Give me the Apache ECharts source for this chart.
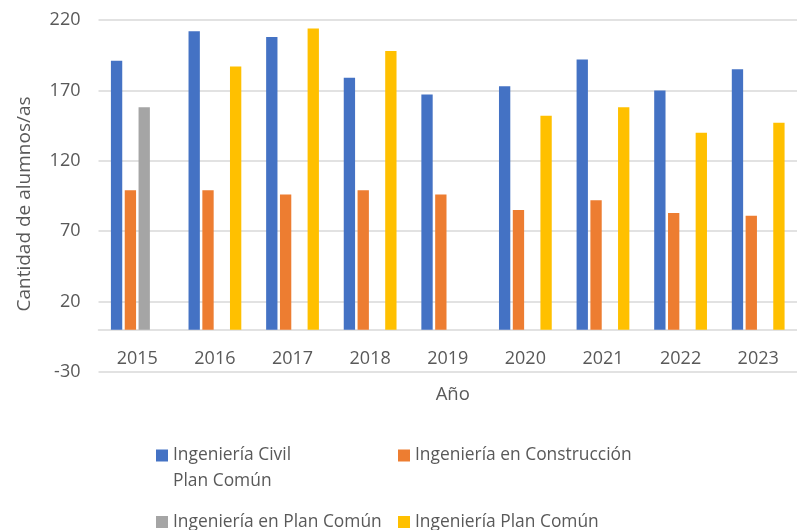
<!DOCTYPE html>
<html>
<head>
<meta charset="utf-8">
<script src="https://cdn.jsdelivr.net/npm/echarts@6/dist/echarts.min.js"></script>
<style>
  html, body { margin: 0; padding: 0; background: #fff; }
  #chart { width: 797px; height: 530px; }
</style>
</head>
<body>
<div id="chart"></div>
<script>
// datos
const years = ['2015', '2016', '2017', '2018', '2019', '2020', '2021', '2022', '2023']
const civilPlanComun = [191, 212, 208, 179, 167, 173, 192, 170, 185]
const construccion = [99, 99, 96, 99, 96, 85, 92, 83, 81]
const enPlanComun = [158, null, null, null, null, null, null, null, null]
const planComun = [null, 187, 214, 198, null, 152, 158, 140, 147]

const names = [
  'Ingeniería Civil Plan Común',
  'Ingeniería en Construcción',
  'Ingeniería en Plan Común',
  'Ingeniería Plan Común'
]
const colors = ['#4472C4', '#ED7D31', '#A5A5A5', '#FFC000']

const font = '"Open Sans", "Noto Sans", sans-serif'
const textColor = '#595959'
const gridColor = '#D9D9D9'

const chart = echarts.init(document.getElementById('chart'))

const legendBase = {
  orient: 'horizontal',
  padding: 0,
  itemWidth: 12,
  itemHeight: 12,
  icon: 'rect',
  selectedMode: false,
  textStyle: { fontFamily: font, fontSize: 17.4, color: textColor, lineHeight: 26 }
}

const option = {
  backgroundColor: '#fff',
  color: colors,
  grid: { left: 98.5, right: -13, top: 20, bottom: 158 },
  legend: [
    Object.assign({}, legendBase, {
      data: [names[0]],
      left: 156,
      top: 416.5,
      // primera línea vacía para que el texto arranque a la altura del símbolo
      formatter: () => ' \nIngeniería Civil\nPlan Común'
    }),
    Object.assign({}, legendBase, { data: [names[1]], left: 398, top: 442.5 }),
    Object.assign({}, legendBase, { data: [names[2]], left: 156, top: 509 }),
    Object.assign({}, legendBase, { data: [names[3]], left: 398, top: 509 })
  ],
  xAxis: {
    type: 'category',
    data: years,
    name: 'Año',
    nameLocation: 'middle',
    nameGap: 13,
    nameTextStyle: { fontFamily: font, fontSize: 18.5, color: textColor, padding: [0, 0, 0, 10] },
    axisLine: { onZero: true, lineStyle: { color: gridColor, width: 1.5 } },
    axisTick: { show: false },
    axisLabel: { inside: true, fontFamily: font, fontSize: 18, color: textColor, margin: 4 }
  },
  yAxis: {
    type: 'value',
    min: -30,
    max: 220,
    interval: 50,
    name: 'Cantidad de alumnos/as',
    nameLocation: 'middle',
    nameGap: 64,
    nameTextStyle: { fontFamily: font, fontSize: 19, color: textColor, padding: [0, 16, 0, 0] },
    axisLine: { show: false },
    axisTick: { show: false },
    axisLabel: { fontFamily: font, fontSize: 18, color: textColor, margin: 18 },
    splitLine: { lineStyle: { color: gridColor, width: 1.5 } }
  },
  series: [civilPlanComun, construccion, enPlanComun, planComun].map((d, i) => ({
    name: names[i],
    type: 'bar',
    data: d,
    barGap: '22%',
    barCategoryGap: '32%',
    itemStyle: { color: colors[i] }
  }))
}

chart.setOption(option)
</script>
</body>
</html>
